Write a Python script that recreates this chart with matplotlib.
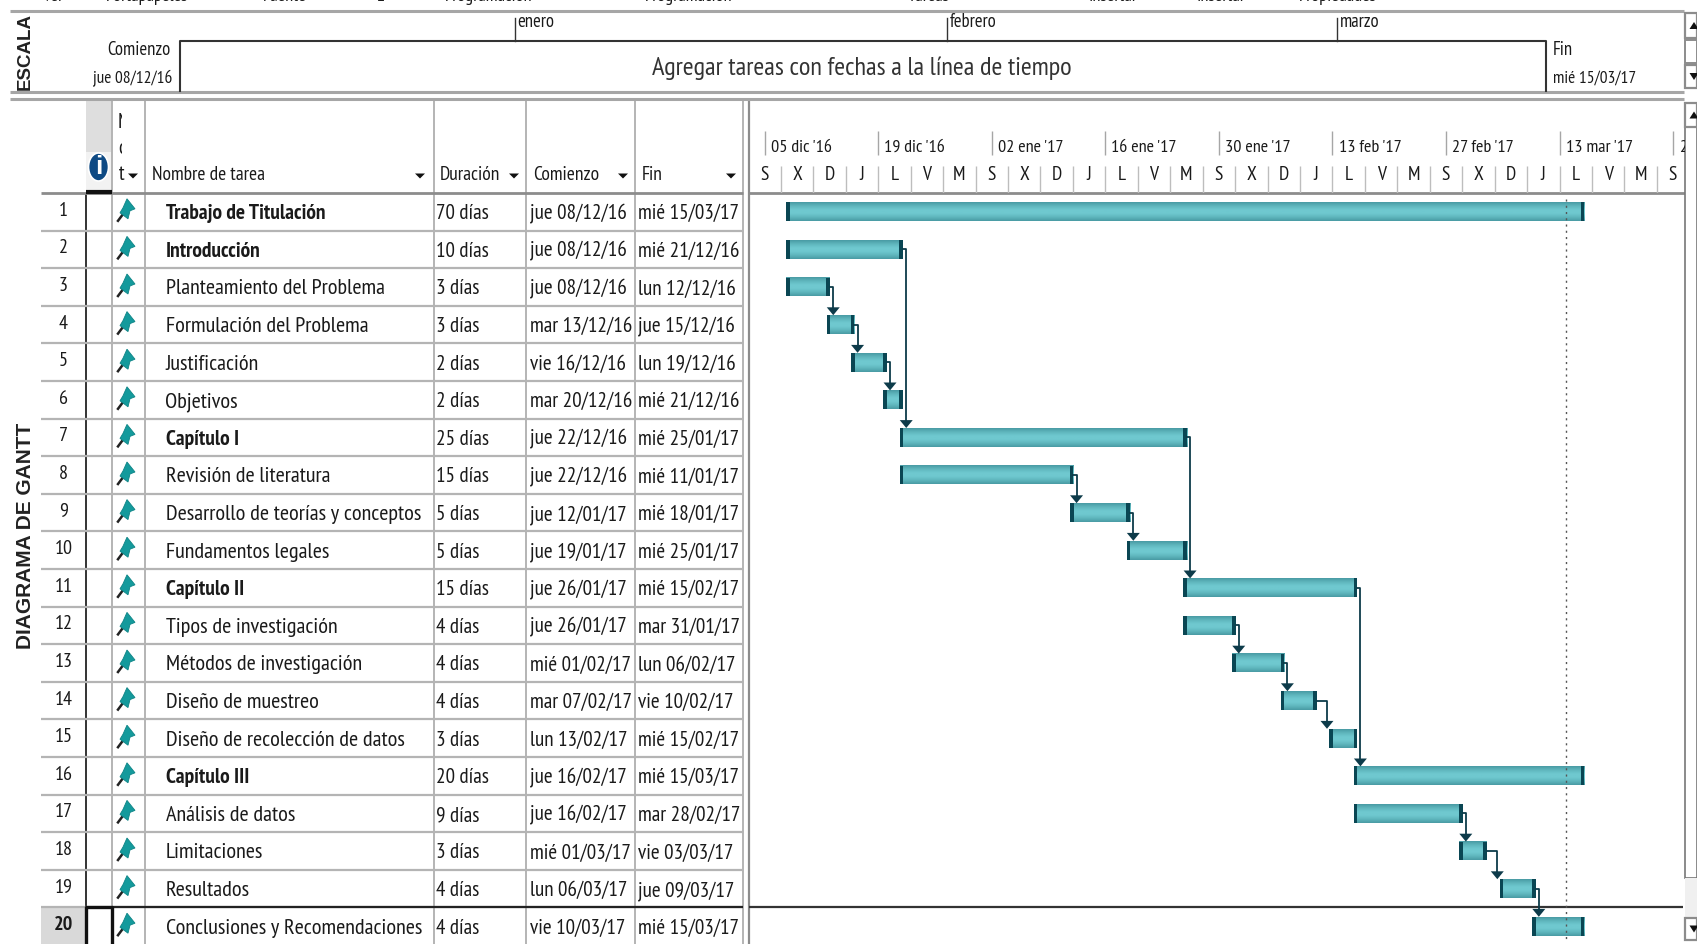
"""Gantt chart of the thesis schedule, MS Project style."""
from datetime import datetime, timedelta

import matplotlib
matplotlib.use("Agg")
import matplotlib.dates as mdates
import matplotlib.pyplot as plt
import numpy as np
from matplotlib import font_manager
from matplotlib.colors import LinearSegmentedColormap
from matplotlib.patches import Ellipse, Polygon, Rectangle

W, H = 1697, 944

# The reference uses a squeezed Calibri; take a narrow humanist face when there is one.
_installed = {f.name for f in font_manager.fontManager.ttflist}
if "PT Sans Narrow" in _installed:
    NARROW, FS = "PT Sans Narrow", 1.0
else:
    NARROW, FS = "Lato", 0.8

# Table data
TASKS = ["Trabajo de Titulación", "Introducción", "Planteamiento del Problema",
         "Formulación del Problema", "Justificación", "Objetivos", "Capítulo I",
         "Revisión de literatura", "Desarrollo de teorías y conceptos",
         "Fundamentos legales", "Capítulo II", "Tipos de investigación",
         "Métodos de investigación", "Diseño de muestreo",
         "Diseño de recolección de datos", "Capítulo III", "Análisis de datos",
         "Limitaciones", "Resultados", "Conclusiones y Recomendaciones"]
DURATIONS = ["70 días", "10 días", "3 días", "3 días", "2 días", "2 días", "25 días",
             "15 días", "5 días", "5 días", "15 días", "4 días", "4 días", "4 días",
             "3 días", "20 días", "9 días", "3 días", "4 días", "4 días"]
STARTS = ["jue 08/12/16", "jue 08/12/16", "jue 08/12/16", "mar 13/12/16", "vie 16/12/16",
          "mar 20/12/16", "jue 22/12/16", "jue 22/12/16", "jue 12/01/17", "jue 19/01/17",
          "jue 26/01/17", "jue 26/01/17", "mié 01/02/17", "mar 07/02/17", "lun 13/02/17",
          "jue 16/02/17", "jue 16/02/17", "mié 01/03/17", "lun 06/03/17", "vie 10/03/17"]
ENDS = ["mié 15/03/17", "mié 21/12/16", "lun 12/12/16", "jue 15/12/16", "lun 19/12/16",
        "mié 21/12/16", "mié 25/01/17", "mié 11/01/17", "mié 18/01/17", "mié 25/01/17",
        "mié 15/02/17", "mar 31/01/17", "lun 06/02/17", "vie 10/02/17", "mié 15/02/17",
        "mié 15/03/17", "mar 28/02/17", "vie 03/03/17", "jue 09/03/17", "mié 15/03/17"]
SUMMARY_ROWS = [0, 1, 6, 10, 15]
# predecessor row -> successor row (0 based)
LINKS = [(1, 6), (2, 3), (3, 4), (4, 5), (6, 10), (7, 8), (8, 9), (10, 15),
         (11, 12), (12, 13), (13, 14), (16, 17), (17, 18), (18, 19)]

# Time scale data
SCALE_LEFT = "03/12/16"
WEEK_DATES = ["05/12/16", "19/12/16", "02/01/17", "16/01/17", "30/01/17", "13/02/17",
              "27/02/17", "13/03/17", "27/03/17"]
WEEK_LABELS = ["05 dic '16", "19 dic '16", "02 ene '17", "16 ene '17", "30 ene '17",
               "13 feb '17", "27 feb '17", "13 mar '17", "2"]
DAY_LETTERS = ["S", "X", "D", "J", "L", "V", "M"]
TODAY = "13/03/17"
MONTH_DATES = ["01/01/17", "01/02/17", "01/03/17"]
MONTH_LABELS = ["enero", "febrero", "marzo"]

MENU_LABELS = ["Ver", "Portapapeles", "Fuente", "E", "Programación", "Programación",
               "Tareas", "Insertar", "Insertar", "Propiedades"]
MENU_X = [42, 106, 263, 377, 445, 645, 908, 1089, 1197, 1299]

# Layout in pixels
COLS = [85.6, 112, 145.3, 433.5, 526, 634.7, 743]
HEAD_TOP, ROWS_TOP, ROW_H = 99, 193, 37.6
GANTT_LEFT, GANTT_RIGHT = 748.5, 1685
PX_PER_DAY = 8.11

BAR_CMAP = LinearSegmentedColormap.from_list(
    "bar", ["#4a9ca5", "#5fb6bd", "#6fc8cf", "#6fc8cf", "#5fb6bd", "#4a9ca5"])
CAP = "#0a4653"
LINK = "#0d3b4a"
GRID = "#b4b4b4"
TEXT = "#1a1a1a"


def parse(label):
    return datetime.strptime(label.split()[-1], "%d/%m/%y")


def row_y(i):
    return ROWS_TOP + ROW_H * i


fig = plt.figure(figsize=(W / 100, H / 100), dpi=100, facecolor="white")

# Full-figure axes in pixels for the table and window chrome
px = fig.add_axes([0, 0, 1, 1])
px.set_xlim(0, W)
px.set_ylim(H, 0)
px.axis("off")


def label(x, y, s, size=16, ha="left", weight="normal", color=TEXT, **kw):
    return px.text(x, y, s, fontsize=size * FS, ha=ha, va="center", fontweight=weight,
                   color=color, family=NARROW, **kw)


def tri(x, y, up=False, w=5, h=5, color="#111111", zorder=4):
    s = -1 if up else 1
    px.add_patch(Polygon([(x - w, y - s * h / 2), (x + w, y - s * h / 2), (x, y + s * h / 2)],
                         closed=True, fc=color, ec="none", zorder=zorder))


# Clipped ribbon labels at the very top
for x, s in zip(MENU_X, MENU_LABELS):
    label(x, -3, s, size=13.2)
px.hlines([11, 92, 99], 10, 1684, color="#a6a6a6", lw=2.2)

# Timeline band
px.text(25.5, 51, "ESCALA", rotation=90, ha="center", va="center", fontsize=13.5,
        color="#222222", family="Liberation Sans", fontweight="bold")
px.plot([180, 180, 1546, 1546], [91, 41, 41, 91], color="#333333", lw=1.5)
label(171, 50, "Comienzo", size=13.4, ha="right")
label(172, 79, "jue 08/12/16", size=12.5, ha="right")
label(1553, 50, "Fin", size=13.4)
label(1553, 79, "mié 15/03/17", size=12.5)
label(862, 68, "Agregar tareas con fechas a la línea de tiempo", size=19, ha="center",
      color="#333333")
tl_start, tl_end = parse(STARTS[0]), parse(ENDS[0]) + timedelta(days=1)
for d, s in zip(MONTH_DATES, MONTH_LABELS):
    x = 180 + (parse(d) - tl_start).days * (1546 - 180) / (tl_end - tl_start).days
    px.plot([x, x], [18, 41], color="#333333", lw=1)
    label(x + 3, 22, s, size=13.4)

# Side title
px.text(25.5, 536, "DIAGRAMA DE GANTT", rotation=90, ha="center", va="center", fontsize=15,
        color="#222222", family="Liberation Sans", fontweight="bold")

# Table header
px.add_patch(Rectangle((COLS[0], HEAD_TOP), COLS[1] - COLS[0], 53, fc="#dedede", ec="none", zorder=0))
px.add_patch(Rectangle((COLS[0], 152), COLS[1] - COLS[0], 38, fc="#f2f2f2", ec="none", zorder=0))
px.add_patch(Ellipse((98.5, 167), 20, 28, fc="#0e4a84", ec="white", lw=1.2, zorder=2))
px.text(98.5, 167, "i", fontsize=19, color="white", ha="center", va="center",
        fontweight="bold", family="Liberation Sans", zorder=3)
px.vlines(COLS[1:], HEAD_TOP, H, color=GRID, lw=1.4, zorder=1)
px.vlines(COLS[0], ROWS_TOP, H, color="#333333", lw=1.4, zorder=1)
px.hlines(ROWS_TOP, 41, COLS[-1], color="#8c8c8c", lw=2, zorder=1)
px.hlines(192, COLS[0], COLS[1], color="#111111", lw=3, zorder=2)
label(118, 122, "M", size=15)
label(118, 149, "o", size=15)
label(119, 175, "t", size=15)
px.add_patch(Rectangle((122, 105), 20, 58, fc="white", ec="none", zorder=3))
label(152, 175, "Nombre de tarea", size=14)
label(440, 175, "Duración", size=14)
label(533, 175, "Comienzo", size=14)
label(642, 175, "Fin", size=14)
for x in [133, 420, 514, 623, 731]:
    tri(x, 176)

# Table rows
for i in range(len(TASKS)):
    top = row_y(i)
    y = top + ROW_H / 2
    if i > 0:
        px.hlines(top, 41, COLS[-1], color=GRID, lw=1.6, zorder=1)
    bold = i in SUMMARY_ROWS
    current = i == len(TASKS) - 1
    label(63.5, y - 1, str(i + 1), size=14.5, ha="center", weight="bold" if current else "normal")
    label(165.5, y + 2, TASKS[i], size=15.5 if bold else 16, weight="bold" if bold else "normal")
    label(436.5, y + 2, DURATIONS[i], size=15.2)
    label(530, y + 2, STARTS[i], size=15.2)
    label(638, y + 2, ENDS[i], size=15.2)
    # task mode pin
    cx, cy = 126, y - 2
    px.plot([cx - 8, cx - 2], [cy + 11, cy + 3], color="#222222", lw=1.8, zorder=3)
    px.add_patch(Polygon([(cx + 1, cy - 11), (cx + 9, cy - 1), (cx + 4, cy + 1), (cx + 2, cy + 9),
                          (cx - 6, cy + 3), (cx - 3, cy - 2)],
                         closed=True, fc="#149a9c", ec="#0e8486", lw=0.6, zorder=4))

# Selected row
sel_top = row_y(len(TASKS) - 1)
px.add_patch(Rectangle((41, sel_top), COLS[0] - 41, H - sel_top, fc="#d9d9d9", ec="none", zorder=0))
px.hlines(sel_top, COLS[1], COLS[-1], color="#222222", lw=1.6, zorder=2)
px.plot([COLS[0], COLS[0], COLS[1], COLS[1]], [H, sel_top, sel_top, H], color="#111111", lw=2.4,
        zorder=3)

# Gantt frame
px.vlines(GANTT_LEFT, HEAD_TOP, H, color="#8c8c8c", lw=1.6, zorder=1)
px.hlines(ROWS_TOP, GANTT_LEFT, GANTT_RIGHT, color="#8c8c8c", lw=2, zorder=1)

# Gantt chart with a real date axis
scale_start = mdates.date2num(parse(SCALE_LEFT))
scale_span = (GANTT_RIGHT - GANTT_LEFT) / PX_PER_DAY
ax = fig.add_axes([GANTT_LEFT / W, 0, (GANTT_RIGHT - GANTT_LEFT) / W, (H - ROWS_TOP) / H],
                  facecolor="none")
y_limits = ((H - ROWS_TOP) / ROW_H - 0.5, -0.5)

shade = np.linspace(0, 1, 32).reshape(-1, 1)
lefts = [mdates.date2num(parse(s)) - 0.37 for s in STARTS]
rights = [mdates.date2num(parse(e)) + 1.05 for e in ENDS]
for i, (a, b) in enumerate(zip(lefts, rights)):
    ax.imshow(shade, extent=(a, b, i + 0.25, i - 0.25), aspect="auto", cmap=BAR_CMAP,
              interpolation="bilinear", zorder=2)
    cap = 0.45
    ax.barh(i, cap, left=a, height=0.5, color=CAP, zorder=2.3)
    ax.barh(i, cap, left=b - cap, height=0.5, color=CAP, zorder=2.3)
ax.set_xlim(scale_start, scale_start + scale_span)
ax.set_ylim(*y_limits)
ax.axis("off")

# Today line
today = mdates.date2num(parse(TODAY)) + 0.8
ax.plot([today, today], [-0.34, 19.35], color="#555555", lw=1, ls=(0, (1.5, 3)), zorder=5)

# Links
for a, b in LINKS:
    vert = max(rights[a] + 0.4, lefts[b] - 0.3)
    tip = b - 0.25
    ax.plot([rights[a], vert, vert], [a, a, tip - 0.1], color=LINK, lw=1.3, zorder=3,
            solid_joinstyle="round")
    ax.fill([vert - 0.8, vert + 0.8, vert], [tip - 0.21, tip - 0.21, tip], color=LINK, zorder=4,
            lw=0)

# Time scale header shares the date axis
head = fig.add_axes([GANTT_LEFT / W, (H - ROWS_TOP) / H, (GANTT_RIGHT - GANTT_LEFT) / W,
                     (ROWS_TOP - HEAD_TOP) / H], facecolor="none", sharex=ax)
head.set_ylim(ROWS_TOP, HEAD_TOP)
head.axis("off")
for d, s in zip(WEEK_DATES, WEEK_LABELS):
    x = mdates.date2num(parse(d))
    head.vlines(x, 131, 155, color="#a6a6a6", lw=1)
    head.text(x + 0.75, 148, s, fontsize=13.1 * FS, va="center", ha="left", color=TEXT,
              family=NARROW, clip_on=True)
n = 0
x = scale_start
while x + 4 <= scale_start + scale_span + 2:
    head.vlines(x + 4, 166, ROWS_TOP, color="#bdbdbd", lw=1)
    head.text(x + 2, 175, DAY_LETTERS[n % 7], fontsize=14 * FS, va="center", ha="center",
              color=TEXT, family=NARROW, clip_on=True)
    x += 4
    n += 1

# Divider through the gantt at the selected row
px.hlines(sel_top, GANTT_LEFT, 1683, color="#333333", lw=1.6, zorder=1)

# Scroll bars
px.add_patch(Rectangle((1685, 878), 12, 40, fc="#f0f0f0", ec="none", zorder=6))
px.add_patch(Rectangle((1685, 103), W - 1685, 775, fc="white", ec="#777777", lw=1.2, zorder=5))
for top, bottom, up in [(13, 38, True), (65, 88, False), (103, 127, True), (918, 940, False)]:
    px.add_patch(Rectangle((1685, top), W - 1685, bottom - top, fc="white", ec="#8c8c8c", lw=1.6,
                           zorder=6))
    tri(1694, (top + bottom) / 2, up=up, w=4.5, h=7, zorder=7)
px.add_patch(Rectangle((1685, 40), W - 1685, 23, fc="white", ec="#8c8c8c", lw=1.4, zorder=6))

fig.savefig("out.png", dpi=100)
